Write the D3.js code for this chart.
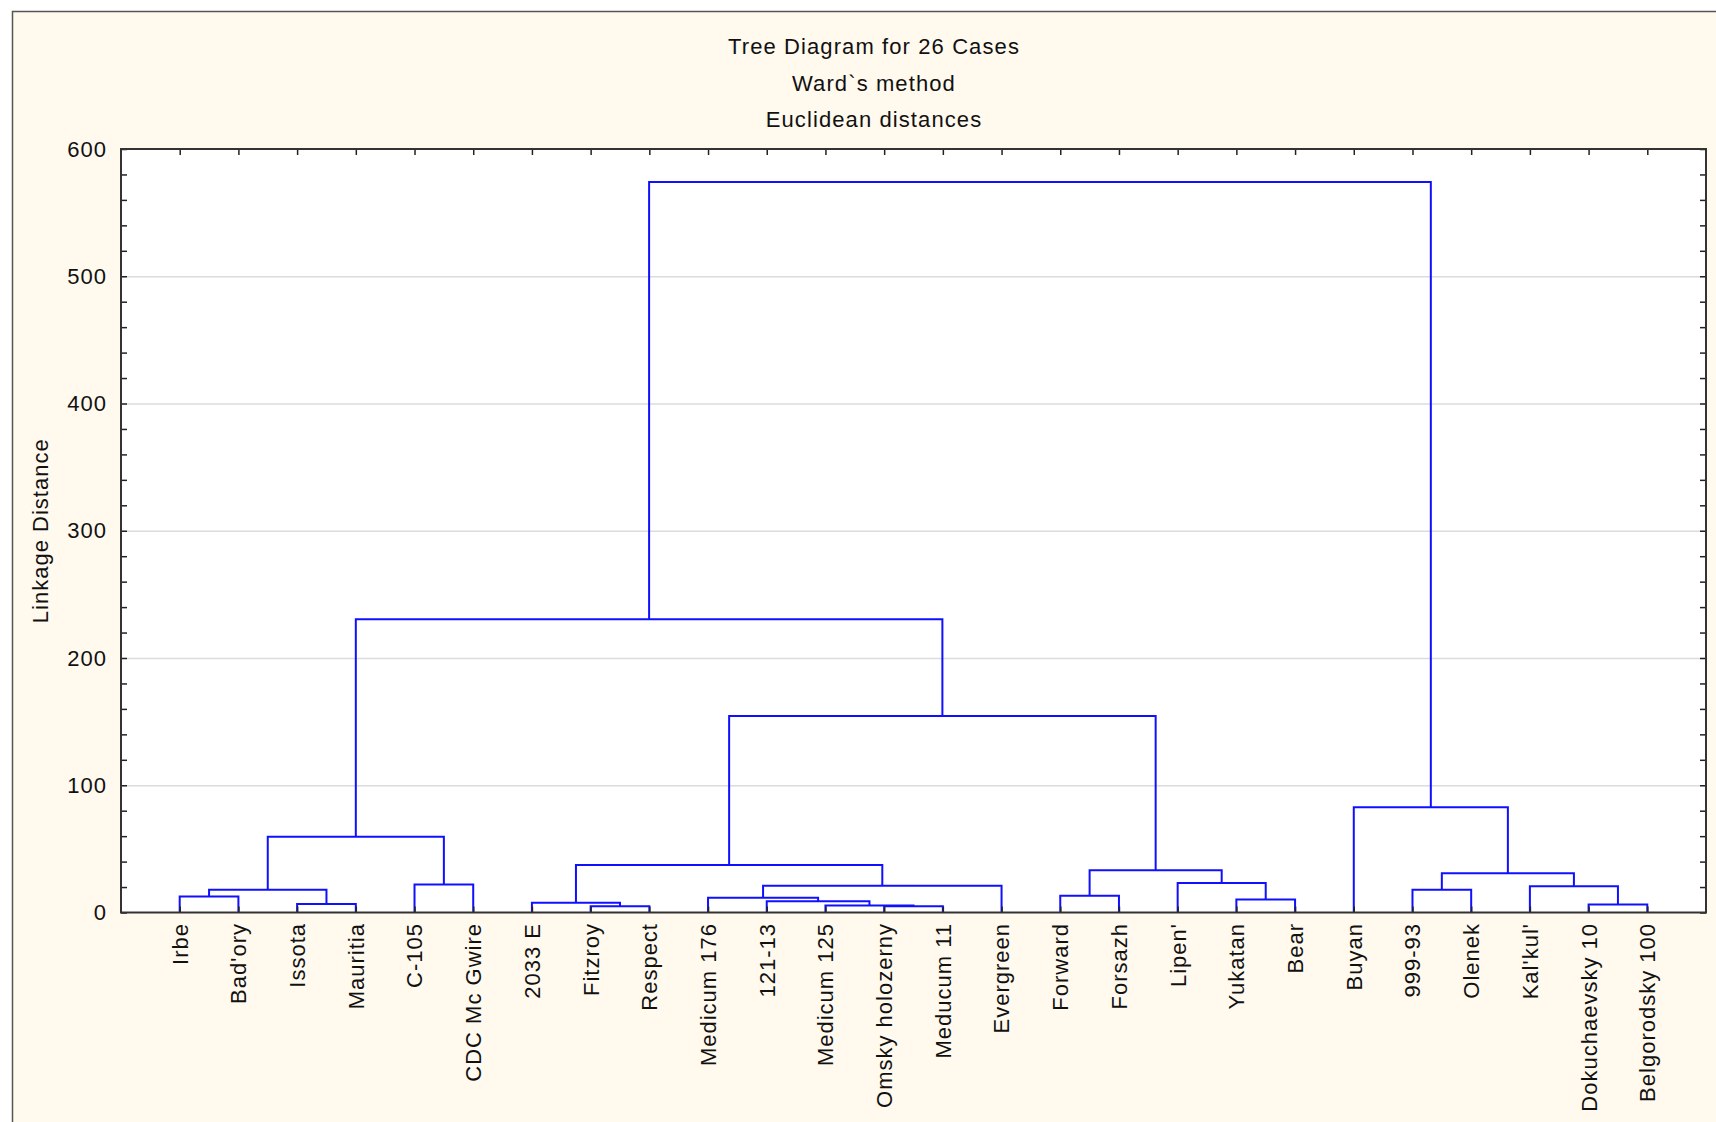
<!DOCTYPE html>
<html>
<head>
<meta charset="utf-8">
<script src="https://cdn.jsdelivr.net/npm/d3@7"></script>
<style>
  html, body { margin: 0; padding: 0; background: #ffffff; }
  svg { display: block; }
  text { font-family: "Liberation Sans", Arial, sans-serif; fill: #111; }
</style>
</head>
<body>
<svg id="chart" width="1716" height="1122"></svg>
<script>
// Cases in the order they appear along the horizontal axis
const leaves = [
  "Irbe", "Bad'ory", "Issota", "Mauritia", "C-105", "CDC Mc Gwire",
  "2033 E", "Fitzroy", "Respect", "Medicum 176", "121-13", "Medicum 125",
  "Omsky holozerny", "Meducum 11", "Evergreen", "Forward", "Forsazh",
  "Lipen'", "Yukatan", "Bear", "Buyan", "999-93", "Olenek", "Kal'kul'",
  "Dokuchaevsky 10", "Belgorodsky 100"
];

// Agglomeration steps: node ids < 26 are cases, id 26 + k is the cluster made at step k
const mergeA = [12, 7, 11, 24, 2, 6, 10, 18, 9, 0, 15, 21, 35, 23, 34, 4, 17, 37, 36, 31, 38, 20, 45, 46, 49];
const mergeB = [13, 8, 26, 25, 3, 27, 28, 19, 32, 1, 16, 22, 30, 29, 14, 5, 33, 39, 42, 40, 41, 43, 44, 48, 47];
const mergeHeight = [5.0, 5.0, 5.5, 6.3, 6.6, 7.6, 8.9, 10.2, 11.5, 12.6, 13.1, 17.8, 17.8, 20.7, 21.0, 22.0, 23.2, 30.9, 33.3, 37.4, 59.5, 82.7, 154.5, 230.5, 574];

const yTickValues = [0, 100, 200, 300, 400, 500, 600];
const gridValues = [100, 200, 300, 400, 500];
const minorTickValues = d3.range(0, 601, 20);

const titleLines = ["Tree Diagram for 26 Cases", "Ward`s method", "Euclidean distances"];
const yAxisTitle = "Linkage Distance";

const W = 1716, H = 1122;
const plot = { left: 121, right: 1706, top: 149, bottom: 912.5 };

const svg = d3.select("#chart");

// panel background with its top/left border
svg.append("rect").attr("x", 0).attr("y", 0).attr("width", W).attr("height", H).attr("fill", "#ffffff");
svg.append("rect").attr("x", 12.5).attr("y", 11.5).attr("width", W).attr("height", H).attr("fill", "#fff9ee");
svg.append("path").attr("d", `M12.5,${H} V11.5 H${W}`).attr("fill", "none").attr("stroke", "#555").attr("stroke-width", 1.5);

// plot area
svg.append("rect")
  .attr("x", plot.left).attr("y", plot.top)
  .attr("width", plot.right - plot.left).attr("height", plot.bottom - plot.top)
  .attr("fill", "#ffffff");

const x = d3.scalePoint().domain(leaves).range([plot.left, plot.right]).padding(1);
const y = d3.scaleLinear().domain([0, 600]).range([plot.bottom, plot.top]);

// horizontal grid
const grid = svg.append("g").attr("transform", `translate(${plot.left},0)`)
  .call(d3.axisLeft(y).tickValues(gridValues).tickSize(-(plot.right - plot.left)).tickFormat(""));
grid.select(".domain").remove();
grid.selectAll("line").attr("stroke", "#dcdcdc").attr("stroke-width", 1.5);

// node coordinates
const nodeX = leaves.map(d => x(d));
const nodeH = leaves.map(() => 0);
mergeA.forEach((a, k) => {
  const b = mergeB[k];
  nodeX.push((nodeX[a] + nodeX[b]) / 2);
  nodeH.push(mergeHeight[k]);
});

// dendrogram links
const links = mergeA.map((a, k) => {
  const b = mergeB[k];
  const h = mergeHeight[k];
  return `M${nodeX[a]},${y(nodeH[a])} V${y(h)} H${nodeX[b]} V${y(nodeH[b])}`;
});
svg.append("g")
  .selectAll("path")
  .data(links)
  .join("path")
  .attr("d", d => d)
  .attr("fill", "none")
  .attr("stroke", "#1010ff")
  .attr("stroke-width", 2);

// ticks pointing into the plot on every side
function styleTicks(g) {
  g.select(".domain").remove();
  g.selectAll("line").attr("stroke", "#222").attr("stroke-width", 1.5);
}
svg.append("g").attr("transform", `translate(0,${plot.bottom})`)
  .call(d3.axisBottom(x).tickSize(-6).tickFormat("")).call(styleTicks);
svg.append("g").attr("transform", `translate(0,${plot.top})`)
  .call(d3.axisTop(x).tickSize(-6).tickFormat("")).call(styleTicks);
svg.append("g").attr("transform", `translate(${plot.left},0)`)
  .call(d3.axisLeft(y).tickValues(minorTickValues).tickSize(-6).tickFormat("")).call(styleTicks);
svg.append("g").attr("transform", `translate(${plot.right},0)`)
  .call(d3.axisRight(y).tickValues(minorTickValues).tickSize(-6).tickFormat("")).call(styleTicks);

// frame
svg.append("rect")
  .attr("x", plot.left).attr("y", plot.top)
  .attr("width", plot.right - plot.left).attr("height", plot.bottom - plot.top)
  .attr("fill", "none").attr("stroke", "#333").attr("stroke-width", 2);

// value labels
const yLabels = svg.append("g").attr("transform", `translate(${plot.left},0)`)
  .call(d3.axisLeft(y).tickValues(yTickValues).tickSize(0).tickPadding(14));
yLabels.select(".domain").remove();
yLabels.selectAll("text")
  .attr("font-size", 22).attr("letter-spacing", 1)
  .attr("font-family", "'Liberation Sans', Arial, sans-serif").attr("fill", "#111");

// case labels, rotated
svg.append("g")
  .selectAll("text")
  .data(leaves)
  .join("text")
  .attr("transform", d => `translate(${x(d)},923) rotate(-90)`)
  .attr("text-anchor", "end")
  .attr("dy", "0.36em")
  .attr("font-size", 22)
  .attr("letter-spacing", 1)
  .text(d => d);

// axis title
svg.append("text")
  .attr("transform", `translate(40,${(plot.top + plot.bottom) / 2}) rotate(-90)`)
  .attr("text-anchor", "middle")
  .attr("dy", "0.36em")
  .attr("font-size", 22)
  .attr("letter-spacing", 1)
  .text(yAxisTitle);

// titles
svg.append("g")
  .selectAll("text")
  .data(titleLines)
  .join("text")
  .attr("x", 874)
  .attr("y", (d, i) => 46 + i * 36.6)
  .attr("dy", "0.36em")
  .attr("text-anchor", "middle")
  .attr("font-size", 22)
  .attr("letter-spacing", 1.1)
  .text(d => d);
</script>
</body>
</html>
